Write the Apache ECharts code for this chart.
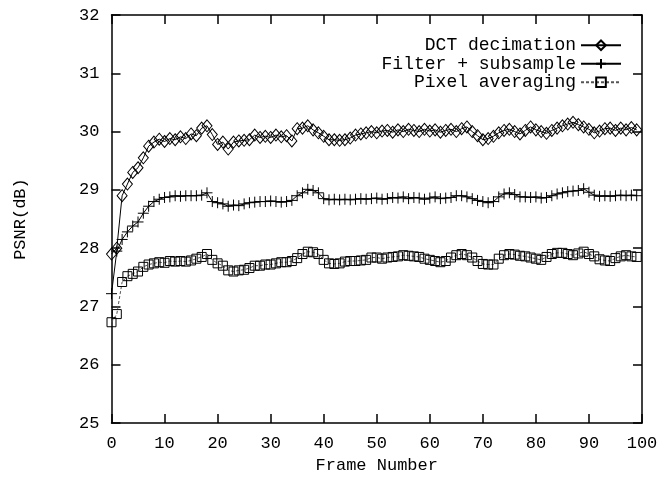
<!DOCTYPE html>
<html>
<head>
<meta charset="utf-8">
<script src="https://cdn.jsdelivr.net/npm/echarts@6/dist/echarts.min.js"></script>
<style>html,body{margin:0;padding:0;background:#fff;}#c{width:661px;height:479px;}</style>
</head>
<body>
<div id="c"></div>
<script>
const frames = Array.from({length:100}, (_, i) => i);
const dctDecimation = [27.9,28.0,28.9,29.1,29.3,29.38,29.55,29.75,29.82,29.87,
29.83,29.88,29.86,29.91,29.88,29.96,29.93,30.06,30.1,29.95,
29.78,29.82,29.7,29.82,29.84,29.85,29.86,29.94,29.9,29.92,
29.9,29.94,29.91,29.93,29.84,30.05,30.06,30.1,30.03,29.98,
29.92,29.86,29.86,29.85,29.86,29.89,29.94,29.96,29.98,30.0,
29.98,30.01,30.02,29.99,30.03,30.0,30.04,30.02,30.0,30.04,
30.01,30.03,29.99,30.02,30.04,30.0,30.05,30.08,30.0,29.93,
29.86,29.88,29.92,29.98,30.02,30.04,30.0,29.96,30.02,30.08,
30.03,30.0,29.97,30.02,30.06,30.1,30.13,30.16,30.12,30.08,
30.04,29.98,30.01,30.05,30.06,30.02,30.06,30.03,30.07,30.03];
const filterSubsample = [27.22,27.95,28.15,28.28,28.38,28.45,28.6,28.72,28.8,28.84,
28.87,28.88,28.9,28.89,28.9,28.9,28.9,28.91,28.95,28.8,
28.78,28.76,28.72,28.74,28.73,28.76,28.78,28.79,28.8,28.8,
28.81,28.8,28.79,28.8,28.82,28.9,28.95,29.01,28.99,28.95,
28.85,28.83,28.84,28.83,28.84,28.83,28.84,28.85,28.84,28.85,
28.86,28.84,28.85,28.87,28.86,28.88,28.85,28.87,28.86,28.84,
28.86,28.88,28.85,28.86,28.87,28.9,28.9,28.88,28.85,28.82,
28.8,28.78,28.8,28.88,28.93,28.95,28.92,28.88,28.88,28.87,
28.88,28.86,28.87,28.9,28.93,28.95,28.97,28.98,28.99,29.02,
28.96,28.91,28.89,28.9,28.89,28.9,28.91,28.9,28.91,28.9];
const pixelAveraging = [26.73,26.87,27.42,27.52,27.56,27.6,27.68,27.72,27.74,27.76,
27.75,27.78,27.77,27.78,27.77,27.79,27.82,27.85,27.9,27.8,
27.74,27.7,27.62,27.6,27.62,27.63,27.66,27.7,27.7,27.72,
27.72,27.74,27.76,27.76,27.78,27.83,27.9,27.94,27.93,27.9,
27.8,27.74,27.73,27.74,27.77,27.78,27.78,27.79,27.8,27.84,
27.84,27.82,27.84,27.85,27.86,27.88,27.87,27.86,27.85,27.82,
27.8,27.78,27.76,27.78,27.84,27.88,27.9,27.88,27.84,27.78,
27.73,27.72,27.72,27.82,27.88,27.9,27.89,27.87,27.86,27.84,
27.82,27.8,27.85,27.9,27.92,27.92,27.9,27.88,27.91,27.94,
27.9,27.86,27.81,27.79,27.78,27.83,27.86,27.88,27.86,27.85];
const seriesNames = ['DCT decimation', 'Filter + subsample', 'Pixel averaging'];
const xTicks = {min:0, max:100, interval:10};
const yTicks = {min:25, max:32, interval:1};

const FONT = 'Liberation Mono';
const pair = arr => frames.map((f, i) => [f, arr[i]]);
const plusPath = 'path://M5,0L5,10M0,5L10,5';
const baseSeries = (name, data, symbol, size, lineStyle) => ({
  name, type:'line', data: pair(data), symbol, symbolSize: size, showAllSymbol:true,
  lineStyle, itemStyle:{color:'transparent', borderColor:'#000', borderWidth:1},
  emphasis:{disabled:true}, animation:false, z:3
});
const axisCommon = {
  axisLine:{show:true, onZero:false, lineStyle:{color:'#000', width:1.5}},
  axisTick:{show:true, inside:true, length:9, lineStyle:{color:'#000', width:1.5}},
  splitLine:{show:false}
};
const chart = echarts.init(document.getElementById('c'), null, {renderer:'canvas'});
chart.setOption({
  backgroundColor:'#fff',
  animation:false,
  grid:{left:111.5, right:19, top:15, bottom:48, containLabel:false},
  legend:{
    right:34, top:31, orient:'vertical', align:'right', itemGap:0,
    itemWidth:40, itemHeight:12,
    textStyle:{fontFamily:FONT, fontSize:18, color:'#000', lineHeight:18.5},
    data: seriesNames
  },
  xAxis:[
    Object.assign({type:'value', min:xTicks.min, max:xTicks.max, interval:xTicks.interval, position:'bottom',
      name:'Frame Number', nameLocation:'middle', nameGap:30,
      nameTextStyle:{fontFamily:FONT, fontSize:17, color:'#000'},
      axisLabel:{fontFamily:FONT, fontSize:17, color:'#000', margin:12}}, axisCommon),
    Object.assign({type:'value', min:xTicks.min, max:xTicks.max, interval:xTicks.interval, position:'top',
      axisLabel:{show:false}}, axisCommon)
  ],
  yAxis:[
    Object.assign({type:'value', min:yTicks.min, max:yTicks.max, interval:yTicks.interval, position:'left',
      name:'PSNR(dB)', nameLocation:'middle', nameGap:83, nameRotate:90,
      nameTextStyle:{fontFamily:FONT, fontSize:17, color:'#000'},
      axisLabel:{fontFamily:FONT, fontSize:17, color:'#000', margin:12}}, axisCommon),
    Object.assign({type:'value', min:yTicks.min, max:yTicks.max, interval:yTicks.interval, position:'right',
      axisLabel:{show:false}}, axisCommon)
  ],
  series:[
    baseSeries(seriesNames[0], dctDecimation, 'diamond', [10,12], {color:'#000', width:1}),
    baseSeries(seriesNames[1], filterSubsample, plusPath, [11,11], {color:'#000', width:1}),
    baseSeries(seriesNames[2], pixelAveraging, 'rect', [9,9], {color:'#555', width:1, type:[3,2]})
  ]
});
</script>
</body>
</html>
